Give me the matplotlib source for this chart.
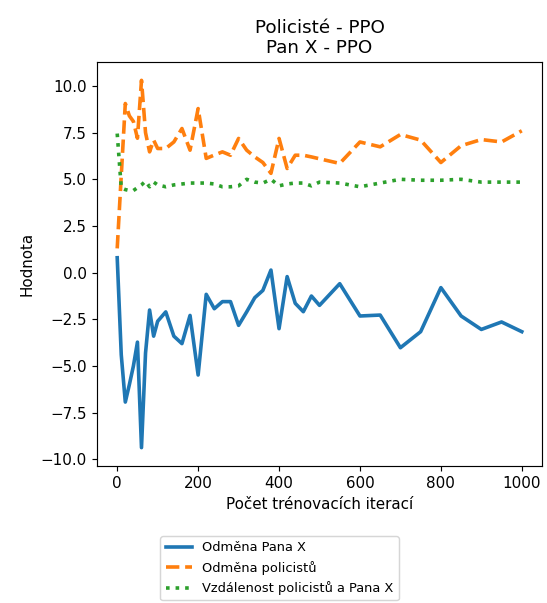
import matplotlib
matplotlib.use("Agg")
import matplotlib.pyplot as plt
import numpy as np

# training iterations (x axis)
iterace = [0, 10, 20, 30, 40, 50, 60, 70, 80, 90, 100,
           120, 140, 160, 180, 200, 220, 240, 260, 280, 300,
           320, 340, 360, 380, 400, 420, 440, 460, 480, 500,
           550, 600, 650, 700, 750, 800, 850, 900, 950, 1000]

odmena_pana_x = [0.8, -4.4, -6.93, -6.0, -5.0, -3.72, -9.37, -4.3, -2.0, -3.4, -2.6,
                 -2.1, -3.4, -3.8, -2.29, -5.48, -1.16, -1.93, -1.55, -1.55, -2.82,
                 -2.1, -1.34, -0.95, 0.14, -3.0, -0.21, -1.64, -2.09, -1.25, -1.75,
                 -0.59, -2.32, -2.27, -4.02, -3.16, -0.8, -2.32, -3.04, -2.64, -3.16]

odmena_policistu = [1.3, 5.2, 9.06, 8.4, 8.1, 7.2, 10.3, 7.5, 6.47, 7.1, 6.65,
                    6.65, 7.0, 7.72, 6.56, 8.79, 6.12, 6.3, 6.47, 6.29, 7.19,
                    6.56, 6.2, 5.9, 5.32, 7.19, 5.58, 6.29, 6.29, 6.2, 6.1,
                    5.85, 7.0, 6.74, 7.4, 7.1, 5.9, 6.8, 7.13, 7.0, 7.6]

vzdalenost = [7.45, 4.55, 4.45, 4.4, 4.4, 4.55, 4.7, 4.9, 4.6, 4.85, 4.7,
              4.6, 4.7, 4.75, 4.8, 4.8, 4.8, 4.75, 4.6, 4.6, 4.65,
              5.0, 4.85, 4.8, 5.0, 4.65, 4.75, 4.8, 4.8, 4.65, 4.85,
              4.8, 4.6, 4.8, 5.0, 4.95, 4.95, 5.0, 4.85, 4.85, 4.85]

dpi = 104
fig = plt.figure(figsize=(547 / dpi, 603 / dpi), dpi=dpi)
ax = fig.add_axes([0.1773, 0.2272, 0.8136, 0.670])

lw = 2.5
ax.plot(iterace, odmena_pana_x, color="tab:blue", lw=lw, label="Odměna Pana X")
ax.plot(iterace, odmena_policistu, color="tab:orange", lw=lw, linestyle="--",
        label="Odměna policistů")
ax.plot(iterace, vzdalenost, color="tab:green", lw=lw, linestyle=":",
        label="Vzdálenost policistů a Pana X")

ax.set_yticks(np.arange(-10, 10.1, 2.5))
ax.tick_params(labelsize=10.5)
ax.set_title("Policisté - PPO\nPan X - PPO", fontsize=12.7)
ax.set_xlabel("Počet trénovacích iterací", fontsize=10.5)
ax.set_ylabel("Hodnota", fontsize=10.5)

fig.legend(loc="upper center", bbox_to_anchor=(0.511, 0.122), fontsize=9)

fig.savefig("out.png", dpi=dpi)
